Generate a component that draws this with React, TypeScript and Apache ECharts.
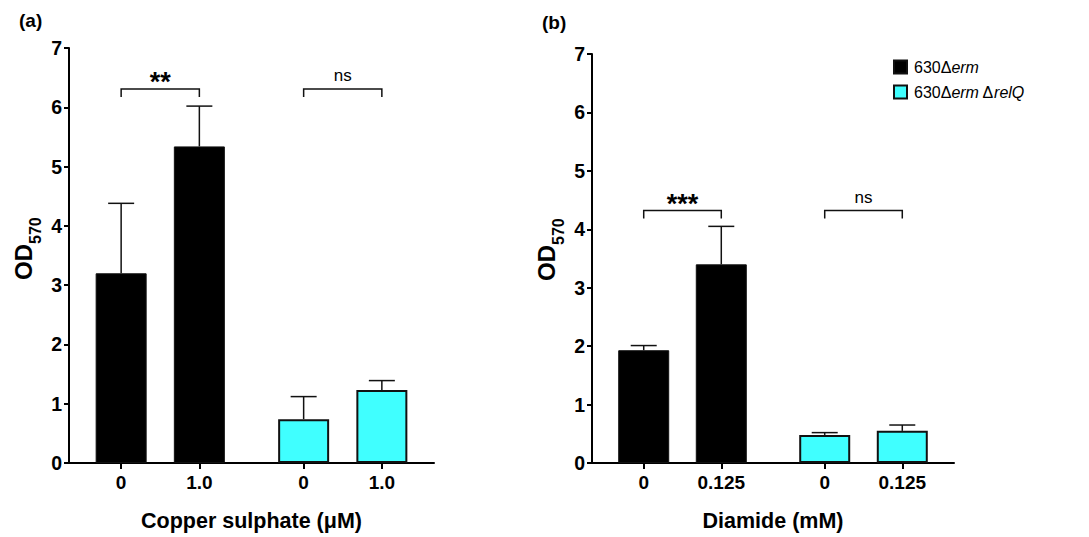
import React, { useEffect, useRef } from 'react';
import * as echarts from 'echarts';

// ---------- data ----------
const strains = ['630Δerm', '630Δerm ΔrelQ'];
const doseLabelsA = ['0', '1.0', '0', '1.0'];
const doseLabelsB = ['0', '0.125', '0', '0.125'];
const barStrain = [0, 0, 1, 1];
const meansA = [3.2, 5.34, 0.74, 1.23];
const semA = [1.18, 0.68, 0.38, 0.16];
const meansB = [1.93, 3.4, 0.48, 0.55];
const semB = [0.08, 0.65, 0.04, 0.1];
const sigA = [
  { from: 0, to: 1, level: 6.31, label: '**' },
  { from: 2, to: 3, level: 6.31, label: 'ns' },
];
const sigB = [
  { from: 0, to: 1, level: 4.32, label: '***' },
  { from: 2, to: 3, level: 4.32, label: 'ns' },
];
const xTitleA = 'Copper sulphate (μM)';
const xTitleB = 'Diamide (mM)';
const yTitleMain = 'OD';
const yTitleSub = '570';
const panelLabels = ['(a)', '(b)'];
const yMin = 0;
const yMax = 7;
const yStep = 1;

// ---------- layout ----------
const SLOTS = [2, 5, 9, 12];
const SLOT_COUNT = 15;
const FONT = '"Liberation Sans", Arial, sans-serif';
const CYAN = '#40FFFF';

function buildCategories(labels: string[]) {
  const arr: string[] = new Array(SLOT_COUNT).fill('');
  labels.forEach((l, i) => (arr[SLOTS[i]] = l));
  return arr;
}

function buildBarData(means: number[], strainIdx: number) {
  const arr: (number | null)[] = new Array(SLOT_COUNT).fill(null);
  means.forEach((m, i) => {
    if (barStrain[i] === strainIdx) arr[SLOTS[i]] = m;
  });
  return arr;
}

function makePanel(
  idx: number,
  doseLabels: string[],
  means: number[],
  sems: number[],
  sig: { from: number; to: number; level: number; label: string }[],
  xTitle: string
) {
  const cats = buildCategories(doseLabels);
  const show = (i: number) => cats[i] !== '';
  const xAxis = {
    type: 'category',
    gridIndex: idx,
    data: cats,
    boundaryGap: false,
    axisLine: { lineStyle: { color: '#000', width: 2 } },
    axisTick: { show: true, interval: show, length: 6, lineStyle: { color: '#000', width: 2 } },
    axisLabel: {
      interval: show,
      margin: 10,
      color: '#000',
      fontSize: 19,
      fontWeight: 'bold',
      fontFamily: FONT,
    },
    name: xTitle,
    nameLocation: 'middle',
    nameGap: 47,
    nameTextStyle: { color: '#000', fontSize: 21.5, fontWeight: 'bold', fontFamily: FONT },
  };
  const yAxis = {
    type: 'value',
    gridIndex: idx,
    min: yMin,
    max: yMax,
    interval: yStep,
    axisLine: { show: true, lineStyle: { color: '#000', width: 2 } },
    axisTick: { show: true, length: 5, lineStyle: { color: '#000', width: 2 } },
    splitLine: { show: false },
    axisLabel: { color: '#000', fontSize: 19.5, fontWeight: 'bold', fontFamily: FONT, margin: 7 },
  };
  const series: any[] = strains.map((name, s) => ({
    type: 'bar',
    name,
    xAxisIndex: idx,
    yAxisIndex: idx,
    data: buildBarData(means, s),
    barWidth: 51,
    barGap: '-100%',
    itemStyle: {
      color: s === 0 ? '#000' : CYAN,
      borderColor: '#111',
      borderWidth: s === 0 ? 1 : 2,
    },
    z: 2,
  }));
  series.push({
    type: 'custom',
    xAxisIndex: idx,
    yAxisIndex: idx,
    z: 3,
    encode: { x: 0, y: [1, 2] },
    data: means.map((m, i) => [SLOTS[i], m, m + sems[i]]),
    renderItem: (params: any, api: any) => {
      const x = api.value(0);
      const lo = api.coord([x, api.value(1)]);
      const hi = api.coord([x, api.value(2)]);
      const cap = 13;
      return {
        type: 'group',
        children: [
          { type: 'line', shape: { x1: lo[0], y1: lo[1], x2: hi[0], y2: hi[1] }, style: { stroke: '#111', lineWidth: 1.5 } },
          { type: 'line', shape: { x1: hi[0] - cap, y1: hi[1], x2: hi[0] + cap, y2: hi[1] }, style: { stroke: '#111', lineWidth: 1.5 } },
        ],
      };
    },
  });
  series.push({
    type: 'custom',
    xAxisIndex: idx,
    yAxisIndex: idx,
    z: 3,
    encode: { x: [0, 1], y: 2 },
    data: sig.map((g) => [SLOTS[g.from], SLOTS[g.to], g.level]),
    renderItem: (params: any, api: any) => {
      const a = api.coord([api.value(0), api.value(2)]);
      const b = api.coord([api.value(1), api.value(2)]);
      const leg = 8;
      const label = sig[params.dataIndex].label;
      const star = label.indexOf('*') >= 0;
      return {
        type: 'group',
        children: [
          {
            type: 'polyline',
            shape: { points: [[a[0], a[1] + leg], [a[0], a[1]], [b[0], b[1]], [b[0], b[1] + leg]] },
            style: { stroke: '#111', lineWidth: 1.5, fill: null },
          },
          {
            type: 'text',
            x: (a[0] + b[0]) / 2,
            y: star ? a[1] - 7 : a[1] - 13,
            style: {
              text: label,
              align: 'center',
              verticalAlign: 'middle',
              fontSize: star ? 27 : 17,
              fontWeight: star ? 'bold' : 'normal',
              fontFamily: FONT,
              fill: '#000',
            },
          },
        ],
      };
    },
  });
  return { xAxis, yAxis, series };
}

function yTitleGraphic(cx: number, cy: number) {
  return {
    type: 'group',
    x: cx,
    y: cy,
    rotation: Math.PI / 2,
    children: [
      {
        type: 'text',
        x: 4,
        y: 0,
        style: { text: yTitleMain, align: 'right', verticalAlign: 'middle', fontSize: 24, fontWeight: 'bold', fontFamily: FONT, fill: '#000' },
      },
      {
        type: 'text',
        x: 4,
        y: 12,
        style: { text: yTitleSub, align: 'left', verticalAlign: 'middle', fontSize: 16, fontWeight: 'bold', fontFamily: FONT, fill: '#000' },
      },
    ],
  };
}

export default function App() {
  const ref = useRef<HTMLDivElement>(null);
  useEffect(() => {
    if (!ref.current) return;
    const chart = echarts.init(ref.current, undefined, { renderer: 'svg' });
    const pA = makePanel(0, doseLabelsA, meansA, semA, sigA, xTitleA);
    const pB = makePanel(1, doseLabelsB, meansB, semB, sigB, xTitleB);
    chart.setOption({
      animation: false,
      backgroundColor: '#fff',
      title: [
        { text: panelLabels[0], left: 19, top: 11, padding: 0, textStyle: { fontSize: 19, fontWeight: 'bold', fontFamily: FONT, color: '#000' } },
        { text: panelLabels[1], left: 542, top: 13, padding: 0, textStyle: { fontSize: 19, fontWeight: 'bold', fontFamily: FONT, color: '#000' } },
      ],
      legend: {
        data: strains,
        orient: 'vertical',
        left: 893,
        top: 59,
        padding: 0,
        itemWidth: 13,
        itemHeight: 13,
        itemGap: 9,
        icon: 'rect',
        textStyle: {
          fontSize: 16,
          fontFamily: FONT,
          color: '#000',
          padding: [0, 0, 0, 2],
          rich: {
            n: { fontSize: 16, fontFamily: FONT, color: '#000' },
            i: { fontSize: 16, fontFamily: FONT, color: '#000', fontStyle: 'italic' },
          },
        },
        formatter: (name: string) =>
          name
            .split(/(erm|relQ)/)
            .filter((t) => t.length > 0)
            .map((t) => (t === 'erm' || t === 'relQ' ? `{i|${t}}` : `{n|${t}}`))
            .join(''),
        selectedMode: false,
      },
      grid: [
        { left: 69, top: 48, width: 365, height: 416 },
        { left: 592, top: 54, width: 362, height: 410 },
      ],
      xAxis: [pA.xAxis, pB.xAxis],
      yAxis: [pA.yAxis, pB.yAxis],
      graphic: [yTitleGraphic(23, 248), yTitleGraphic(546, 249)],
      series: [...pA.series, ...pB.series],
    });
    return () => chart.dispose();
  }, []);
  return (
    <div
      ref={ref}
      style={{ position: 'fixed', left: 0, top: 0, width: 1089, height: 537, background: '#fff' }}
    />
  );
}
